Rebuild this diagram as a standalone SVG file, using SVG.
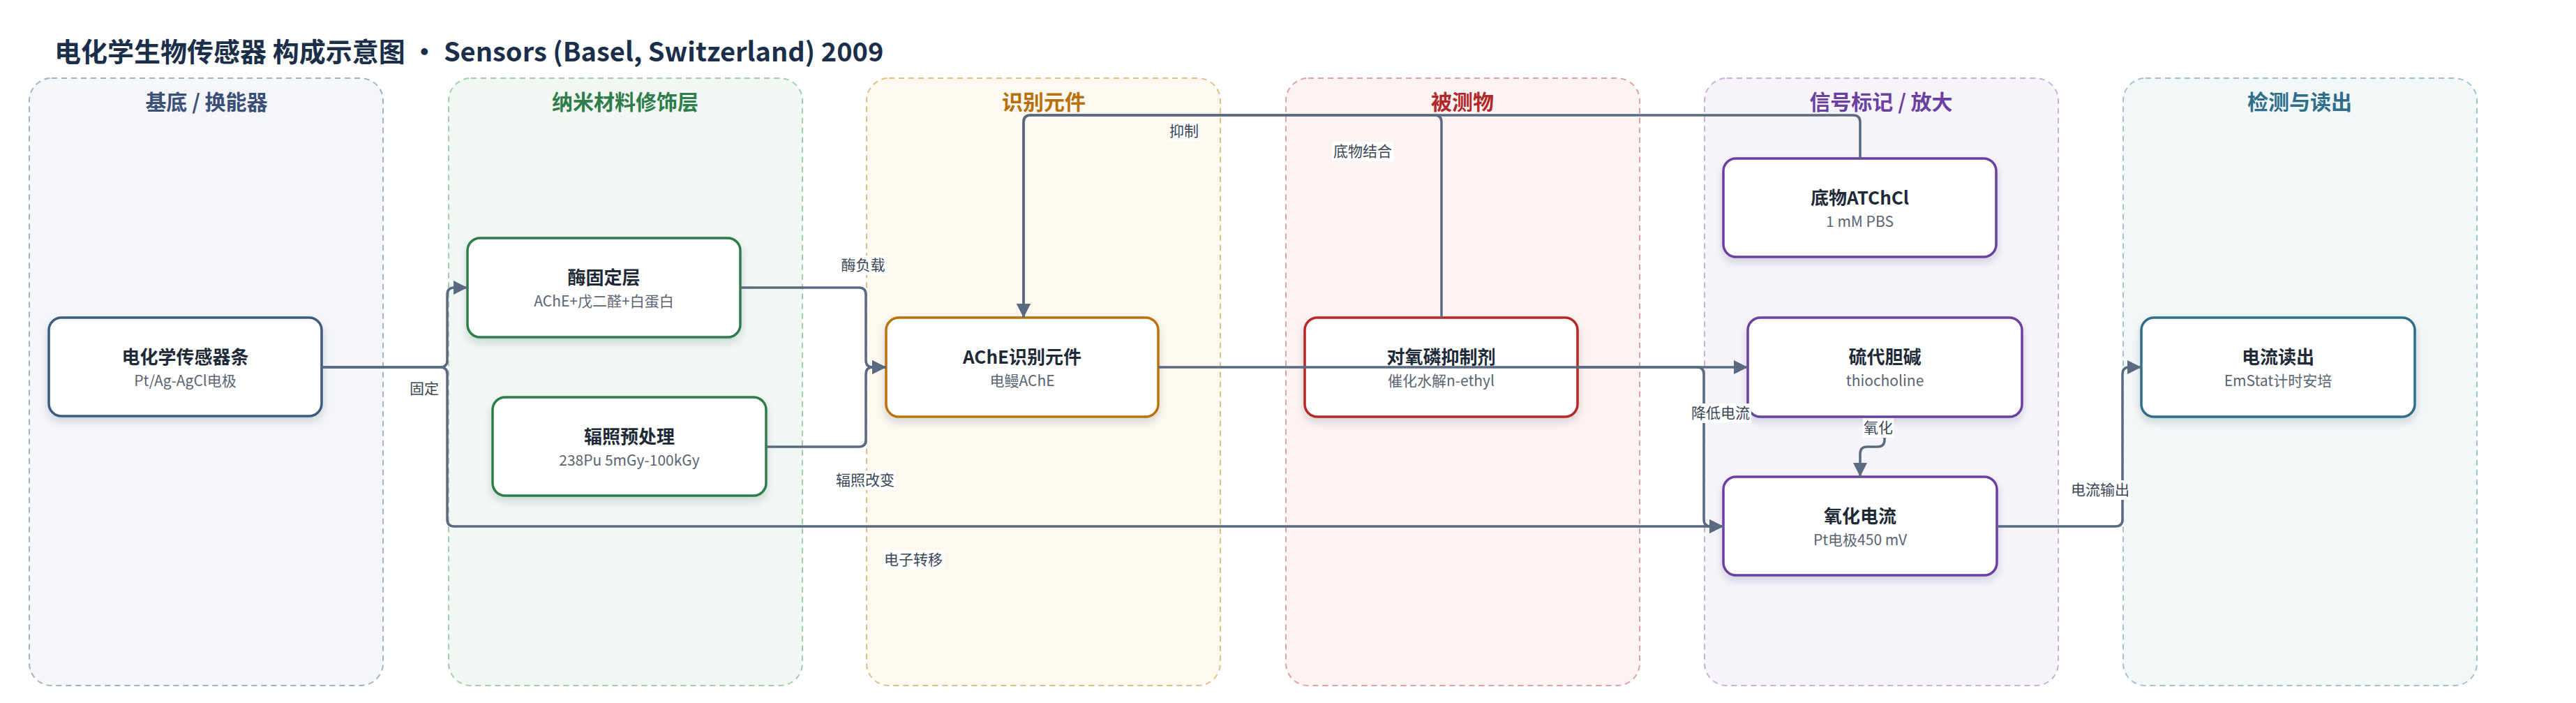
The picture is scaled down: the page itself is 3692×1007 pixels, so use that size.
<svg xmlns="http://www.w3.org/2000/svg" width="3692" height="1007" viewBox="0 0 3692 1007">
<defs>
<filter id="sh" x="-10%" y="-10%" width="120%" height="140%">
<feDropShadow dx="0" dy="6" stdDeviation="6" flood-color="#1e2a38" flood-opacity="0.16"/>
</filter>
<marker id="arr" viewBox="0 0 10 10" refX="10" refY="5" markerWidth="20" markerHeight="20" markerUnits="userSpaceOnUse" orient="auto">
<path d="M0,0 L10,5 L0,10 z" fill="#5a6a80"/>
</marker>
<style>
text{font-family:"Noto Sans CJK SC","Noto Sans",sans-serif;}
.title{font-size:38px;font-weight:700;fill:#1b2f4b;}
.lane{stroke-width:2;stroke-dasharray:8 6;}
.lt{font-size:30px;font-weight:700;text-anchor:middle;}
.box{fill:#fff;stroke-width:3.5;filter:url(#sh);}
.nt{font-size:26px;font-weight:700;fill:#1e2a38;text-anchor:middle;}
.ns{font-size:21px;fill:#5a6472;text-anchor:middle;}
.edge{fill:none;stroke:#5a6a80;stroke-width:3.5;}
.el{font-size:21px;fill:#3a4656;text-anchor:middle;}
.lb{fill:#fff;}
</style>
</defs>
<rect width="3692" height="1007" fill="#fff"/>
<text class="title" x="78" y="88">电化学生物传感器 构成示意图 · Sensors (Basel, Switzerland) 2009</text>

<g id="lanes">
<rect class="lane" x="42" y="112" width="507" height="870" rx="32" fill="#f4f6fa" stroke="#a3b1c6"/>
<text class="lt" x="296" y="157" fill="#3a5078">基底 / 换能器</text>
<rect class="lane" x="643" y="112" width="507" height="870" rx="32" fill="#f1f8f3" stroke="#a2ccae"/>
<text class="lt" x="896" y="157" fill="#2e7d4a">纳米材料修饰层</text>
<rect class="lane" x="1242" y="112" width="507" height="870" rx="32" fill="#fdf8f0" stroke="#e3bd82"/>
<text class="lt" x="1496" y="157" fill="#b8700a">识别元件</text>
<rect class="lane" x="1843" y="112" width="507" height="870" rx="32" fill="#fdf3f2" stroke="#e2a0a0"/>
<text class="lt" x="2096" y="157" fill="#b0282a">被测物</text>
<rect class="lane" x="2443" y="112" width="507" height="870" rx="32" fill="#f6f3fa" stroke="#c6b0e2"/>
<text class="lt" x="2696" y="157" fill="#6a3fa0">信号标记 / 放大</text>
<rect class="lane" x="3043" y="112" width="507" height="870" rx="32" fill="#f2f7f8" stroke="#a0c2cc"/>
<text class="lt" x="3296" y="157" fill="#2e6e8a">检测与读出</text>
</g>

<g id="n-strip">
<rect class="box" x="70" y="455" width="391" height="141" rx="18" stroke="#3d5a80"/>
<text class="nt" x="265.5" y="521">电化学传感器条</text>
<text class="ns" x="265.5" y="553">Pt/Ag-AgCl电极</text>
</g>
<g id="n-enzyme-layer">
<rect class="box" x="670" y="341" width="391" height="142" rx="18" stroke="#2e7d4a"/>
<text class="nt" x="865.5" y="407">酶固定层</text>
<text class="ns" x="865.5" y="439">AChE+戊二醛+白蛋白</text>
</g>
<g id="n-irradiation">
<rect class="box" x="706" y="569" width="392" height="141" rx="18" stroke="#2e7d4a"/>
<text class="nt" x="902" y="635">辐照预处理</text>
<text class="ns" x="902" y="667">238Pu 5mGy-100kGy</text>
</g>
<g id="n-ache">
<rect class="box" x="1270" y="455" width="390" height="142" rx="18" stroke="#b8730a"/>
<text class="nt" x="1465" y="521">AChE识别元件</text>
<text class="ns" x="1465" y="553">电鳗AChE</text>
</g>
<g id="n-paraoxon">
<rect class="box" x="1870" y="455" width="391" height="142" rx="18" stroke="#b82828"/>
<text class="nt" x="2065.5" y="521">对氧磷抑制剂</text>
<text class="ns" x="2065.5" y="553">催化水解n-ethyl</text>
</g>
<g id="n-substrate">
<rect class="box" x="2470" y="227" width="391" height="141" rx="18" stroke="#6a3fa0"/>
<text class="nt" x="2665.5" y="293">底物ATChCl</text>
<text class="ns" x="2665.5" y="325">1 mM PBS</text>
</g>
<g id="n-thiocholine">
<rect class="box" x="2505" y="455" width="393" height="142" rx="18" stroke="#6a3fa0"/>
<text class="nt" x="2701.5" y="521">硫代胆碱</text>
<text class="ns" x="2701.5" y="553">thiocholine</text>
</g>
<g id="n-oxcurrent">
<rect class="box" x="2470" y="683" width="392" height="141" rx="18" stroke="#6a3fa0"/>
<text class="nt" x="2666" y="749">氧化电流</text>
<text class="ns" x="2666" y="781">Pt电极450 mV</text>
</g>
<g id="n-readout">
<rect class="box" x="3069" y="455" width="392" height="142" rx="18" stroke="#2e6e8a"/>
<text class="nt" x="3265" y="521">电流读出</text>
<text class="ns" x="3265" y="553">EmStat计时安培</text>
</g>

<g id="connectors">
<path class="edge" marker-end="url(#arr)" d="M461,526 H631 Q641,526 641,516 V422 Q641,412 651,412 H670"/>
<path class="edge" marker-end="url(#arr)" d="M461,526 H631 Q641,526 641,536 V744 Q641,754 651,754 H2470"/>
<path class="edge" marker-end="url(#arr)" d="M1061,412 H1231 Q1241,412 1241,422 V516 Q1241,526 1251,526 H1270"/>
<path class="edge" marker-end="url(#arr)" d="M1098,640 H1231 Q1241,640 1241,630 V536 Q1241,526 1251,526 H1270"/>
<path class="edge" marker-end="url(#arr)" d="M2066,455 V175 Q2066,165 2056,165 H1477 Q1467,165 1467,175 V455"/>
<path class="edge" marker-end="url(#arr)" d="M2666,227 V175 Q2666,165 2656,165 H1477 Q1467,165 1467,175 V455"/>
<path class="edge" marker-end="url(#arr)" d="M1660,526 H2505"/>
<path class="edge" marker-end="url(#arr)" d="M2261,526 H2432 Q2442,526 2442,536 V744 Q2442,754 2452,754 H2470"/>
<path class="edge" marker-end="url(#arr)" d="M2701,597 V630 Q2701,640 2691,640 H2676 Q2666,640 2666,650 V683"/>
<path class="edge" marker-end="url(#arr)" d="M2862,754 H3032 Q3042,754 3042,744 V536 Q3042,526 3052,526 H3069"/>
<g id="edge-labels">
<rect class="lb" x="586" y="543" width="44" height="28"/><text class="el" x="608" y="564">固定</text>
<rect class="lb" x="1265" y="788" width="88" height="28"/><text class="el" x="1309" y="809">电子转移</text>
<rect class="lb" x="1204" y="366" width="66" height="28"/><text class="el" x="1237" y="387">酶负载</text>
<rect class="lb" x="1196" y="674" width="88" height="28"/><text class="el" x="1240" y="695">辐照改变</text>
<rect class="lb" x="1675" y="174" width="44" height="28"/><text class="el" x="1697" y="195">抑制</text>
<rect class="lb" x="1909" y="203" width="88" height="28"/><text class="el" x="1953" y="224">底物结合</text>
<rect class="lb" x="2422" y="578" width="88" height="28"/><text class="el" x="2466" y="599">降低电流</text>
<rect class="lb" x="2670" y="599" width="44" height="28"/><text class="el" x="2692" y="620">氧化</text>
<rect class="lb" x="2966" y="688" width="88" height="28"/><text class="el" x="3010" y="709">电流输出</text>
</g>
</g>
</svg>
